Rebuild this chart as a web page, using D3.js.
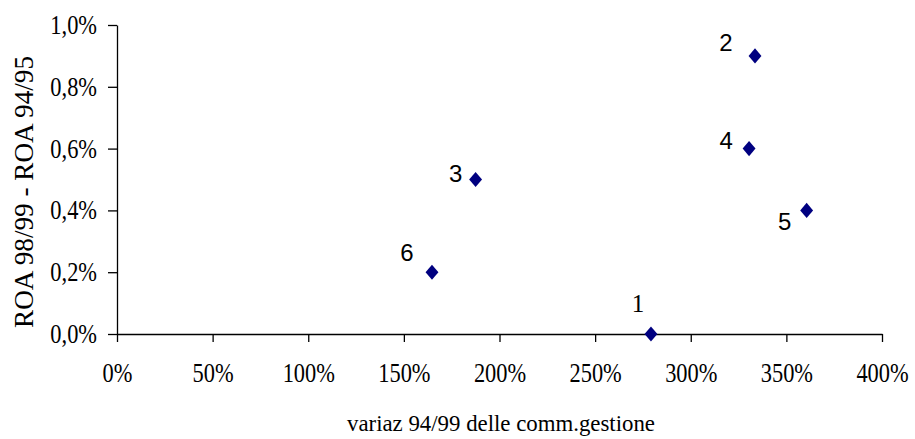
<!DOCTYPE html>
<html>
<head>
<meta charset="utf-8">
<script src="https://cdn.jsdelivr.net/npm/d3@7"></script>
<style>
  body { margin: 0; background: #fff; }
  svg { display: block; }
  .tick text { font-family: "Liberation Serif", "Times New Roman", serif; font-size: 28px; fill: #000; }
  .axis-title { font-family: "Liberation Serif", "Times New Roman", serif; }
  .pt-label { font-family: "Liberation Sans", Arial, sans-serif; font-size: 24px; }
  .pt-label.serif { font-family: "Liberation Serif", "Times New Roman", serif; font-size: 25px; }
</style>
</head>
<body>
<svg id="chart" width="915" height="439"></svg>
<script>
// Data
const ids = ['1', '2', '3', '4', '5', '6'];
const commGrowth = [2.792, 3.336, 1.875, 3.305, 3.606, 1.647];
const roaDiff = [0.000, 0.009, 0.005, 0.006, 0.004, 0.002];
const xTicks = [0, 0.5, 1, 1.5, 2, 2.5, 3, 3.5, 4];
const yTicks = [0, 0.002, 0.004, 0.006, 0.008, 0.010];

// label placement (dx, dy from marker) and font
const labelOffset = [[-13, -22], [-29, -5], [-20, 2], [-23, 0], [-22, 20], [-25, -11]];
const labelSerif = [true, false, false, false, false, false];

const svg = d3.select('#chart');
const margin = { left: 117, right: 33, top: 25, bottom: 105 };
const W = 915, H = 439;
const squeeze = 0.8; // tick labels look narrow in the original

const x = d3.scaleLinear().domain([0, 4]).range([margin.left, W - margin.right]);
const y = d3.scaleLinear().domain([0, 0.01]).range([H - margin.bottom, margin.top]);

const pct0 = v => Math.round(v * 100) + '%';
const pct1 = v => (v * 100).toFixed(1).replace('.', ',') + '%';

const xAxis = svg.append('g')
  .attr('transform', `translate(0,${y(0)})`)
  .call(d3.axisBottom(x).tickValues(xTicks).tickFormat(pct0).tickSize(8).tickPadding(20).tickSizeOuter(0));

const yAxis = svg.append('g')
  .attr('transform', `translate(${x(0)},0)`)
  .call(d3.axisLeft(y).tickValues(yTicks).tickFormat(pct1).tickSize(9).tickPadding(11).tickSizeOuter(0));

[xAxis, yAxis].forEach(a => {
  a.select('.domain').attr('stroke', '#000').attr('stroke-width', 1.3);
  a.selectAll('.tick line').attr('stroke', '#000').attr('stroke-width', 1.3);
});
xAxis.selectAll('.tick text').attr('transform', `scale(${squeeze},1)`);
yAxis.selectAll('.tick text')
  .attr('transform', `scale(${squeeze},1)`)
  .attr('x', -20 / squeeze)
  .attr('dy', '0.3em');

svg.append('text')
  .attr('class', 'axis-title')
  .attr('x', 347).attr('y', 431)
  .attr('font-size', 24)
  .attr('textLength', 308)
  .attr('lengthAdjust', 'spacingAndGlyphs')
  .text('variaz 94/99 delle comm.gestione');

svg.append('text')
  .attr('class', 'axis-title')
  .attr('transform', 'translate(33,328) rotate(-90)')
  .attr('font-size', 27)
  .attr('textLength', 272)
  .attr('lengthAdjust', 'spacingAndGlyphs')
  .text('ROA 98/99 - ROA 94/95');

const pts = ids.map((id, i) => ({ id, x: commGrowth[i], y: roaDiff[i], off: labelOffset[i], serif: labelSerif[i] }));

svg.append('g').selectAll('path')
  .data(pts)
  .enter().append('path')
  .attr('d', d3.symbol().type(d3.symbolDiamond2).size(125))
  .attr('transform', d => `translate(${x(d.x)},${y(d.y)}) scale(0.92,1.08)`)
  .attr('fill', '#000080');

svg.append('g').selectAll('text')
  .data(pts)
  .enter().append('text')
  .attr('class', d => d.serif ? 'pt-label serif' : 'pt-label')
  .attr('x', d => x(d.x) + d.off[0])
  .attr('y', d => y(d.y) + d.off[1])
  .attr('text-anchor', 'middle')
  .text(d => d.id);
</script>
</body>
</html>
